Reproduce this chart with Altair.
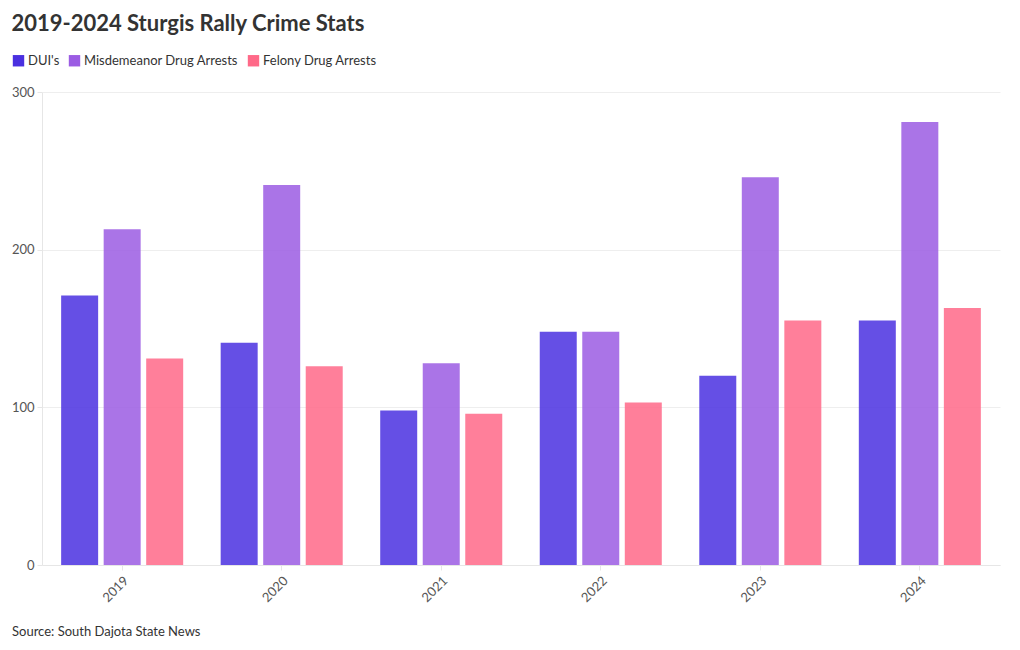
import altair as alt
import pandas as pd

years = ["2019", "2020", "2021", "2022", "2023", "2024"]
series = ["DUI's", "Misdemeanor Drug Arrests", "Felony Drug Arrests"]
dui = [171, 141, 98, 148, 120, 155]
misdemeanor = [213, 241, 128, 148, 246, 281]
felony = [131, 126, 96, 103, 155, 163]
colors = ["#4A30E0", "#9B5CE3", "#FF6988"]

rows = []
for name, vals in zip(series, [dui, misdemeanor, felony]):
    for y, v in zip(years, vals):
        rows.append({"Year": y, "Series": name, "Value": v})
df = pd.DataFrame(rows)

FONT = "Lato"
W, H = 958, 473

bars = alt.Chart(df).mark_bar(opacity=0.85).encode(
    x=alt.X("Year:N", sort=years,
            scale=alt.Scale(paddingInner=0.235, paddingOuter=0.12),
            axis=alt.Axis(title=None, labelAngle=-45, labelColor="#555", labelFontSize=13,
                          domainColor="#e6e6e6", tickColor="#e6e6e6", tickSize=5,
                          labelPadding=4)),
    xOffset=alt.XOffset("Series:N", sort=series, scale=alt.Scale(paddingInner=0.13)),
    y=alt.Y("Value:Q", scale=alt.Scale(domain=[0, 300]),
            axis=alt.Axis(title=None, values=[0, 100, 200, 300], labelColor="#555",
                          labelFontSize=13, gridColor="#eeeeee", domainColor="#e6e6e6",
                          tickColor="#e6e6e6", tickSize=5, labelPadding=3)),
    color=alt.Color("Series:N", sort=series,
                    scale=alt.Scale(domain=series, range=colors),
                    legend=alt.Legend(title=None, orient="none", direction="horizontal",
                                      legendX=-30, legendY=-38, symbolType="square",
                                      symbolSize=130, symbolOpacity=1, labelFontSize=13,
                                      labelColor="#333", columnPadding=8, labelOffset=3)),
)

src = alt.Chart(pd.DataFrame({"t": ["Source: South Dajota State News"]})).mark_text(
    align="left", baseline="middle", fontSize=13, color="#333", font=FONT
).encode(x=alt.value(-30), y=alt.value(H + 67), text="t:N")

chart = alt.layer(bars, src).properties(
    width=W, height=H,
    padding={"left": 3, "top": 5, "right": 5, "bottom": 5},
    title=alt.TitleParams("2019-2024 Sturgis Rally Crime Stats", anchor="start",
                          fontSize=22, fontWeight="bold", color="#333", font=FONT,
                          offset=18),
).configure(font=FONT).configure_view(stroke=None).configure_axis(labelFont=FONT)

chart.save("out.html", embed_options={"renderer": "svg", "actions": False})
